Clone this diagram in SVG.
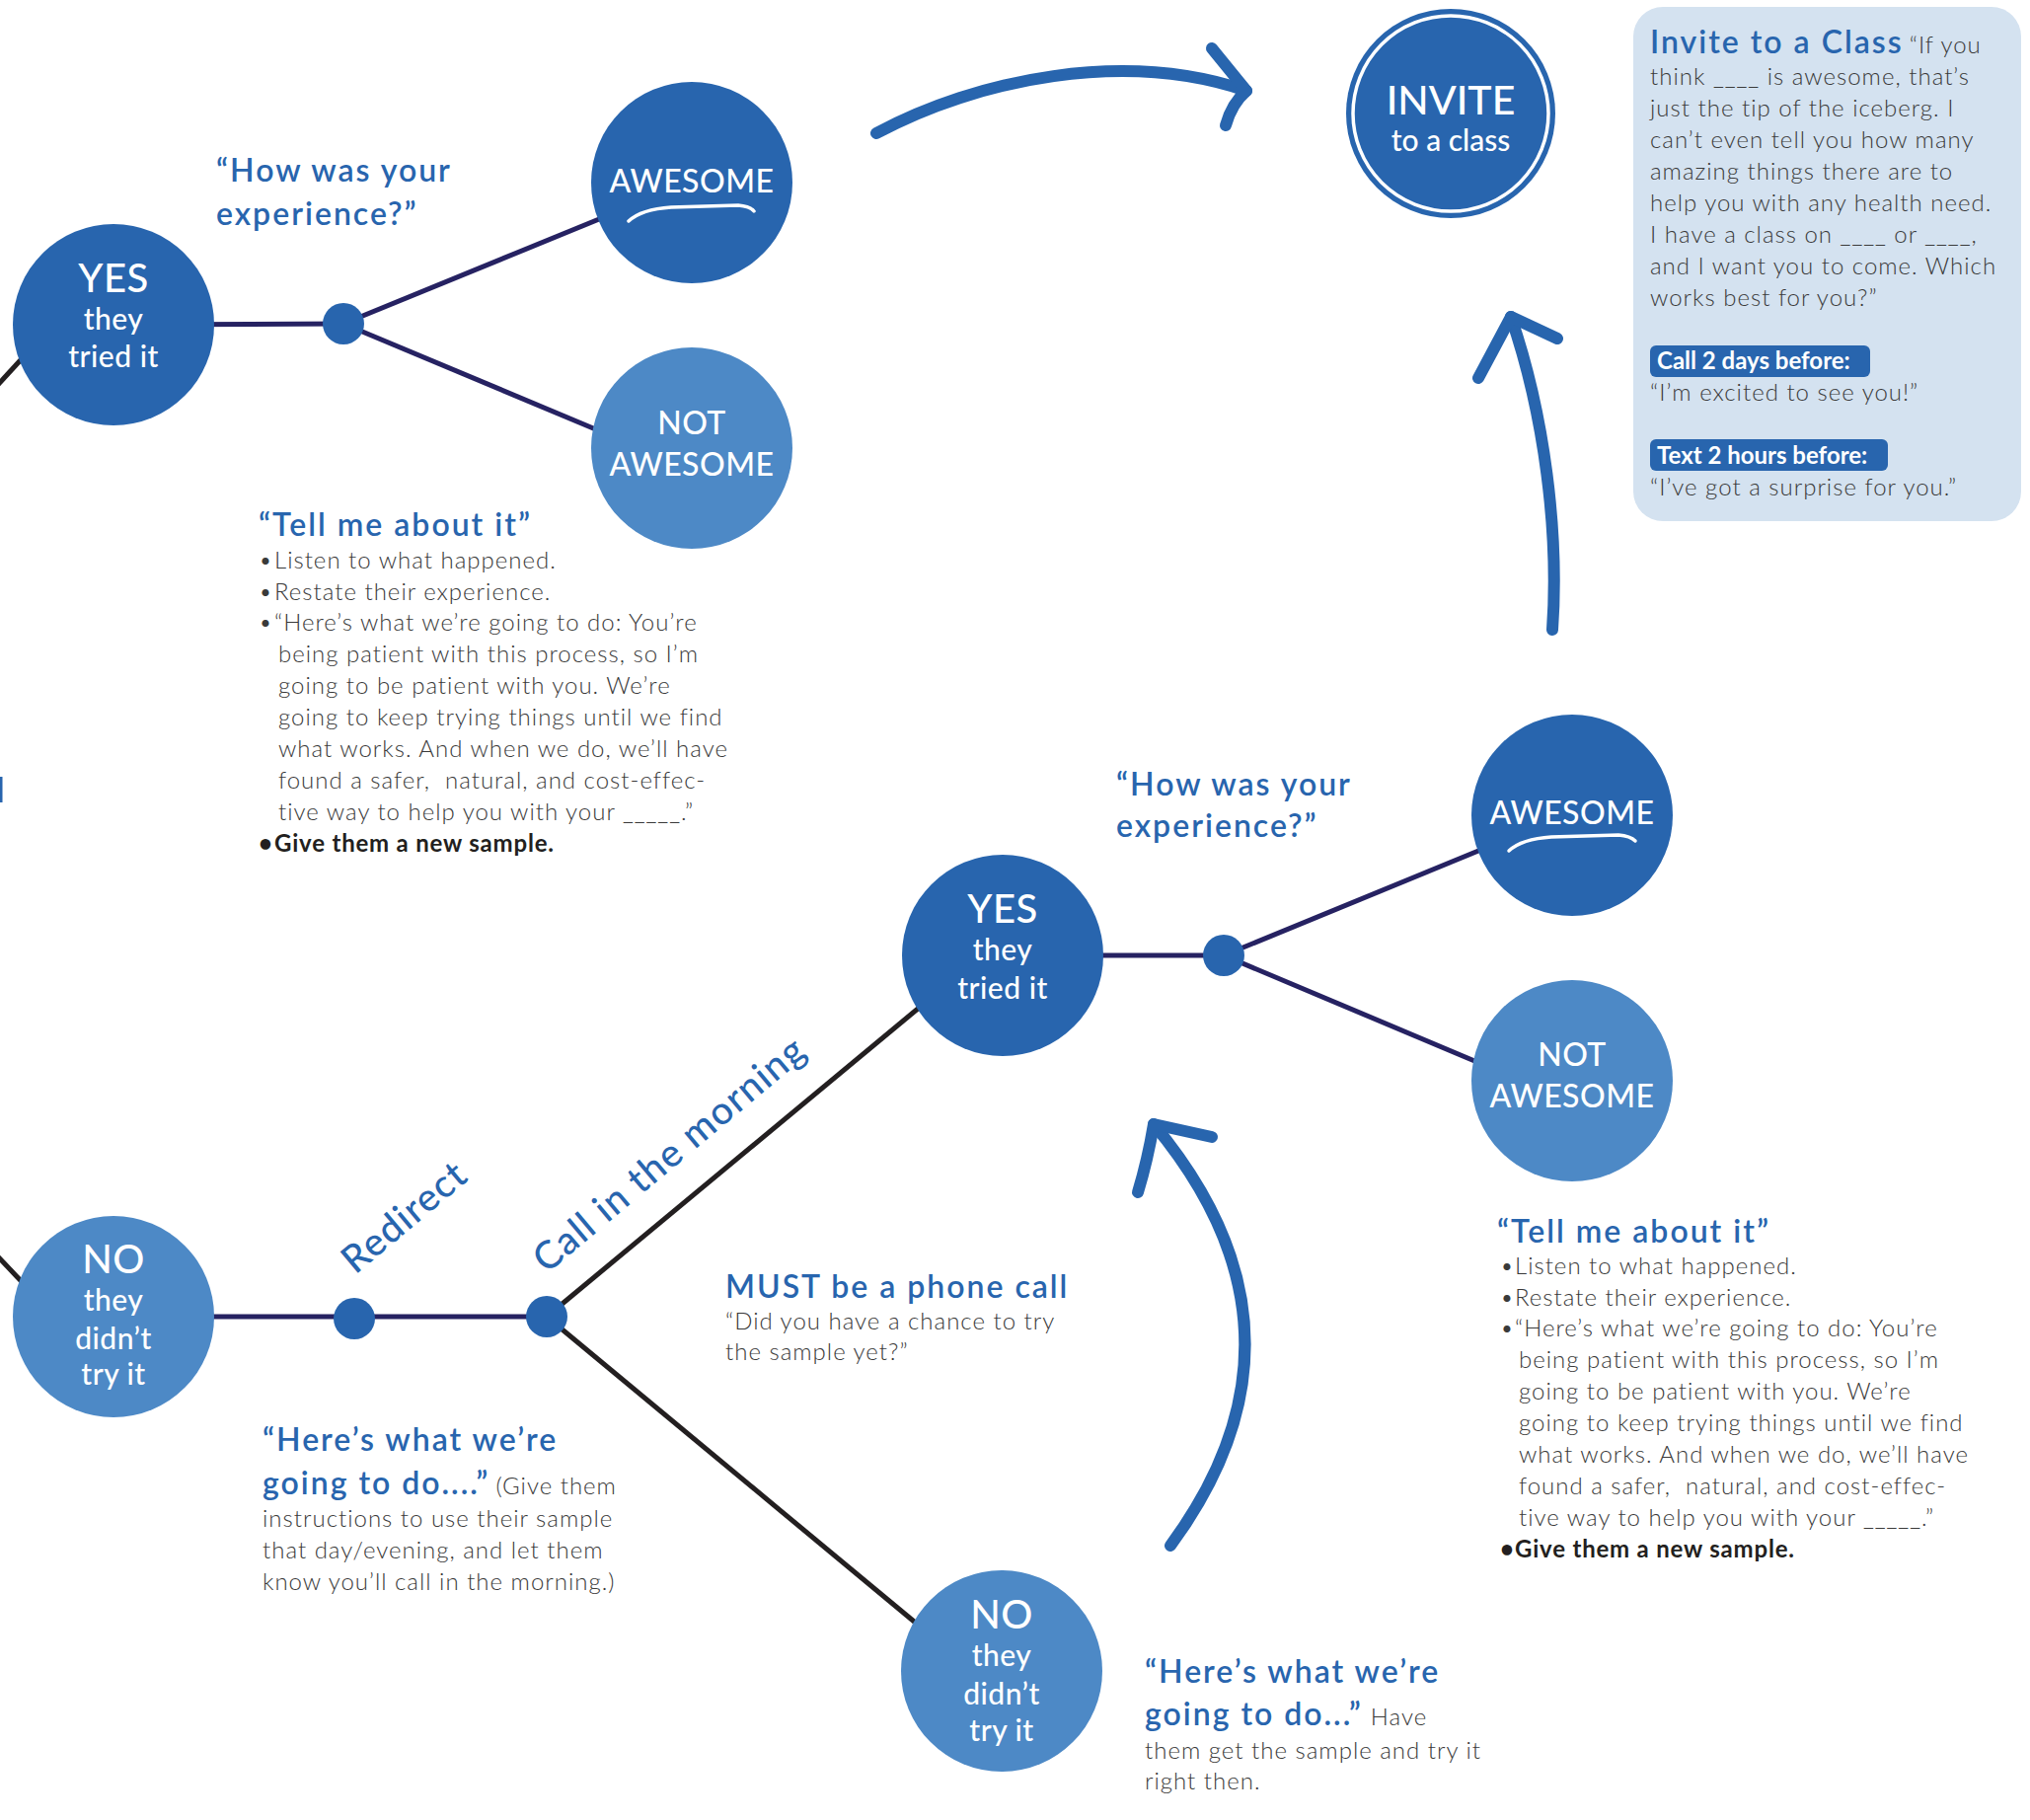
<svg xmlns="http://www.w3.org/2000/svg" width="2057" height="1844" viewBox="0 0 2057 1844">
<style>
text{font-family:Lato,"Noto Sans","Liberation Sans",sans-serif}
.nl{fill:#fff;font-weight:500;text-anchor:middle}
.big{font-size:40px;letter-spacing:0.5px}
.sm{font-size:30px;letter-spacing:0.5px}
.aw{font-size:32px;letter-spacing:0.5px}
.dk{fill:#2865AE}
.lt{fill:#4D89C6}
.nav{stroke:#262262;stroke-width:5;fill:none}
.blk{stroke:#231F20;stroke-width:5;fill:none}
.arr{stroke:#2865AE;stroke-width:12;fill:none;stroke-linecap:round;stroke-linejoin:round}
.h{fill:#2865AE;font-size:32px;font-weight:600;letter-spacing:2px}
.b{fill:#3a3a3a;font-size:24px;font-weight:300;letter-spacing:1px}
.bb{fill:#231F20;font-size:24px;font-weight:700;letter-spacing:0.8px}
.rot{fill:#2865AE;font-size:39px;font-weight:500;letter-spacing:1.2px}
.sw{stroke:#fff;stroke-width:3.5;fill:none;stroke-linecap:round}
.tag{fill:#fff;font-size:24px;font-weight:700}
</style>
<g id="connectors">
<line class="blk" x1="-6" y1="394" x2="28" y2="357"/>
<line class="nav" x1="115" y1="329" x2="348" y2="328"/>
<line class="nav" x1="348" y1="328" x2="612" y2="220"/>
<line class="nav" x1="348" y1="328" x2="606" y2="436"/>
<line class="blk" x1="-6" y1="1269" x2="28" y2="1305"/>
<line class="nav" x1="115" y1="1334" x2="554" y2="1334"/>
<line class="blk" x1="554" y1="1334" x2="936" y2="1017"/>
<line class="blk" x1="554" y1="1334" x2="936" y2="1651"/>
<line class="nav" x1="1016" y1="968" x2="1240" y2="968"/>
<line class="nav" x1="1240" y1="968" x2="1503" y2="860"/>
<line class="nav" x1="1240" y1="968" x2="1499" y2="1077"/>
<path class="arr" d="M888 135 C990 80 1140 50 1263 92"/>
<path class="arr" d="M1228 49 L1263 92 Q1248 105 1242 127"/>
<path class="arr" d="M1573 638 C1580 540 1565 420 1531 321"/>
<path class="arr" d="M1498 383 L1531 321 L1578 343"/>
<path class="arr" d="M1186 1566 Q1345 1350 1169 1139"/>
<path class="arr" d="M1153 1208 Q1163 1175 1169 1139 L1228 1152"/>
</g>
<rect x="0" y="787" width="2.5" height="26" fill="#2865AE"/>
<g id="yes-top">
<circle class="dk" cx="115" cy="329" r="102"/>
<text class="nl big" x="115" y="296">YES</text>
<text class="nl sm" x="115" y="334">they</text>
<text class="nl sm" x="115" y="372">tried it</text>
</g>
<g id="dot-top"><circle class="dk" cx="348" cy="328" r="21"/></g>
<g id="awesome-top">
<circle class="dk" cx="701" cy="185" r="102"/>
<text class="nl aw" x="701" y="195">AWESOME</text>
<path class="sw" d="M637 224 Q650 212 680 210 L748 208 Q760 209 764 214"/>
</g>
<g id="notawesome-top">
<circle class="lt" cx="701" cy="454" r="102"/>
<text class="nl aw" x="701" y="440">NOT</text>
<text class="nl aw" x="701" y="482">AWESOME</text>
</g>
<g id="q-top">
<text class="h" font-weight="500" x="219" y="184">“How was your</text>
<text class="h" font-weight="500" x="219" y="228">experience?”</text>
</g>
<g id="tell-top">
<text class="h" x="262" y="543">“Tell me about it”</text>
<text class="b" x="262" y="576">•</text><text class="b" x="278" y="576">Listen to what happened.</text>
<text class="b" x="262" y="608">•</text><text class="b" x="278" y="608">Restate their experience.</text>
<text class="b" x="262" y="639">•</text><text class="b" x="278" y="639">“Here’s what we’re going to do: You’re</text>
<text class="b" x="282" y="671">being patient with this process, so I’m</text>
<text class="b" x="282" y="703">going to be patient with you. We’re</text>
<text class="b" x="282" y="735">going to keep trying things until we find</text>
<text class="b" x="282" y="767">what works. And when we do, we’ll have</text>
<text class="b" x="282" y="799">found a safer,&#160; natural, and cost-effec-</text>
<text class="b" x="282" y="831">tive way to help you with your _____.”</text>
<text class="bb" x="262" y="863">•</text><text class="bb" x="278" y="863">Give them a new sample.</text>
</g>
<g id="invite">
<circle class="dk" cx="1470" cy="115" r="106"/>
<circle cx="1470" cy="115" r="99" fill="none" stroke="#fff" stroke-width="3.5"/>
<text class="nl" font-size="41" x="1470" y="116">INVITE</text>
<text class="nl" font-size="30" x="1470" y="153">to a class</text>
</g>
<g id="invite-box">
<rect x="1655" y="7" width="393" height="521" rx="30" fill="#D4E2F0"/>
<text x="1672" y="54"><tspan class="h" font-size="34">Invite to a Class</tspan><tspan class="b" dx="6">“If you</tspan></text>
<text class="b" x="1672" y="86">think ____ is awesome, that’s</text>
<text class="b" x="1672" y="118">just the tip of the iceberg. I</text>
<text class="b" x="1672" y="150">can’t even tell you how many</text>
<text class="b" x="1672" y="182">amazing things there are to</text>
<text class="b" x="1672" y="214">help you with any health need.</text>
<text class="b" x="1672" y="246">I have a class on ____ or ____,</text>
<text class="b" x="1672" y="278">and I want you to come. Which</text>
<text class="b" x="1672" y="310">works best for you?”</text>
<rect x="1672" y="350" width="223" height="32" rx="6" fill="#2865AE"/>
<text class="tag" x="1679" y="374">Call 2 days before:</text>
<text class="b" x="1672" y="406">“I’m excited to see you!”</text>
<rect x="1672" y="445" width="241" height="32" rx="6" fill="#2865AE"/>
<text class="tag" x="1679" y="470">Text 2 hours before:</text>
<text class="b" x="1672" y="502">“I’ve got a surprise for you.”</text>
</g>
<g id="yes-mid">
<circle class="dk" cx="1016" cy="968" r="102"/>
<text class="nl big" x="1016" y="935">YES</text>
<text class="nl sm" x="1016" y="973">they</text>
<text class="nl sm" x="1016" y="1012">tried it</text>
</g>
<g id="dot-mid"><circle class="dk" cx="1240" cy="968" r="21"/></g>
<g id="awesome-right">
<circle class="dk" cx="1593" cy="826" r="102"/>
<text class="nl aw" x="1593" y="835">AWESOME</text>
<path class="sw" d="M1529 862 Q1542 850 1572 848 L1640 846 Q1652 847 1657 852"/>
</g>
<g id="notawesome-right">
<circle class="lt" cx="1593" cy="1095" r="102"/>
<text class="nl aw" x="1593" y="1080">NOT</text>
<text class="nl aw" x="1593" y="1122">AWESOME</text>
</g>
<g id="q-mid">
<text class="h" font-weight="500" x="1131" y="806">“How was your</text>
<text class="h" font-weight="500" x="1131" y="848">experience?”</text>
</g>
<g id="tell-right">
<text class="h" x="1517" y="1259">“Tell me about it”</text>
<text class="b" x="1520" y="1291">•</text><text class="b" x="1535" y="1291">Listen to what happened.</text>
<text class="b" x="1520" y="1323">•</text><text class="b" x="1535" y="1323">Restate their experience.</text>
<text class="b" x="1520" y="1354">•</text><text class="b" x="1535" y="1354">“Here’s what we’re going to do: You’re</text>
<text class="b" x="1539" y="1386">being patient with this process, so I’m</text>
<text class="b" x="1539" y="1418">going to be patient with you. We’re</text>
<text class="b" x="1539" y="1450">going to keep trying things until we find</text>
<text class="b" x="1539" y="1482">what works. And when we do, we’ll have</text>
<text class="b" x="1539" y="1514">found a safer,&#160; natural, and cost-effec-</text>
<text class="b" x="1539" y="1546">tive way to help you with your _____.”</text>
<text class="bb" x="1520" y="1578">•</text><text class="bb" x="1535" y="1578">Give them a new sample.</text>
</g>
<g id="no-left">
<circle class="lt" cx="115" cy="1334" r="102"/>
<text class="nl big" x="115" y="1290">NO</text>
<text class="nl sm" x="115" y="1328">they</text>
<text class="nl sm" x="115" y="1367">didn’t</text>
<text class="nl sm" x="115" y="1403">try it</text>
</g>
<g id="dot-redirect"><circle class="dk" cx="359" cy="1336" r="21"/></g>
<g id="dot-call"><circle class="dk" cx="554" cy="1334" r="21"/></g>
<text class="rot" transform="translate(360 1292) rotate(-40)">Redirect</text>
<text class="rot" transform="translate(554 1291) rotate(-40)">Call in the morning</text>
<g id="redirect-note">
<text class="h" font-weight="500" x="266" y="1470">“Here’s what we’re</text>
<text x="266" y="1514"><tspan class="h" font-weight="500">going to do....”</tspan><tspan class="b" dx="6">(Give them</tspan></text>
<text class="b" x="266" y="1547">instructions to use their sample</text>
<text class="b" x="266" y="1579">that day/evening, and let them</text>
<text class="b" x="266" y="1611">know you’ll call in the morning.)</text>
</g>
<g id="phone-note">
<text class="h" font-weight="500" x="735" y="1315">MUST be a phone call</text>
<text class="b" x="735" y="1347">“Did you have a chance to try</text>
<text class="b" x="735" y="1378">the sample yet?”</text>
</g>
<g id="no-bottom">
<circle class="lt" cx="1015" cy="1693" r="102"/>
<text class="nl big" x="1015" y="1650">NO</text>
<text class="nl sm" x="1015" y="1688">they</text>
<text class="nl sm" x="1015" y="1727">didn’t</text>
<text class="nl sm" x="1015" y="1764">try it</text>
</g>
<g id="now-note">
<text class="h" font-weight="500" x="1160" y="1705">“Here’s what we’re</text>
<text x="1160" y="1748"><tspan class="h" font-weight="500">going to do...”</tspan><tspan class="b" dx="8">Have</tspan></text>
<text class="b" x="1160" y="1782">them get the sample and try it</text>
<text class="b" x="1160" y="1813">right then.</text>
</g>
</svg>
